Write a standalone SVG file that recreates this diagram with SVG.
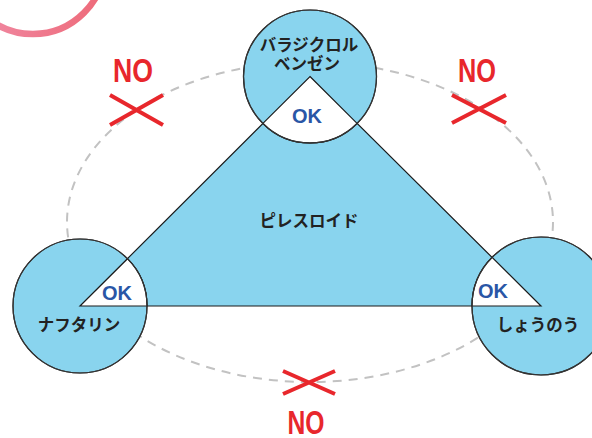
<svg xmlns="http://www.w3.org/2000/svg" width="592" height="438" viewBox="0 0 592 438">
<defs>
<linearGradient id="pk" x1="0" y1="0" x2="1" y2="0">
<stop offset="0" stop-color="#F08DA8"/>
<stop offset="1" stop-color="#EE6A79"/>
</linearGradient>
<style>
.bg{fill:#FFFFFF}
.ring{fill:none;stroke:url(#pk);stroke-width:6.5}
.orbit{fill:none;stroke:#C2C2C2;stroke-width:2;stroke-dasharray:9 7}
.tri{fill:#89D4EE;stroke:#1A1A1A;stroke-width:1.2;stroke-linejoin:miter}
.circ{fill:#89D4EE;stroke:#333333;stroke-width:1.2}
.wedge{fill:#FFFFFF;stroke:#1A1A1A;stroke-width:1.2}
.jp{font-family:"Noto Sans CJK JP","Noto Sans",sans-serif;font-weight:700;font-size:16.5px;fill:#222222;text-anchor:middle}
.ok{font-family:"Liberation Sans",Arial,sans-serif;font-weight:700;font-size:20px;fill:#2A56A6;text-anchor:middle}
.no{font-family:"Liberation Sans",Arial,sans-serif;font-weight:700;font-size:33px;fill:#E8272C;text-anchor:middle}
.x{stroke:#E8272C;stroke-width:4;stroke-linecap:butt;fill:none}
</style>
</defs>
<rect class="bg" x="0" y="0" width="592" height="438"/>
<circle class="ring" cx="33" cy="-38" r="72"/>
<ellipse class="orbit" cx="310" cy="222" rx="243" ry="160"/>

<g id="connectors">
<polygon class="tri" points="310,76.5 80,306 541,306"/>
</g>

<g id="node-center">
<text class="jp" x="309" y="227">ピレスロイド</text>
</g>

<g id="node-top">
<circle class="circ" cx="310" cy="76.5" r="66.5"/>
<path class="wedge" d="M310,76.5 L357.1,123.4 A66.5,66.5 0 0 1 262.9,123.4 Z"/>
<circle cx="310" cy="76.5" r="66.5" fill="none" stroke="#333333" stroke-width="1.2"/>
<text class="jp" x="309" y="50.5">バラジクロル</text>
<text class="jp" x="307" y="69.5">ベンゼン</text>
<text class="ok" x="307" y="123">OK</text>
</g>

<g id="node-left">
<circle class="circ" cx="80" cy="306" r="67"/>
<path class="wedge" d="M80,306 L127.5,258.7 A67,67 0 0 1 147,306 Z"/>
<circle cx="80" cy="306" r="67" fill="none" stroke="#333333" stroke-width="1.2"/>
<text class="ok" x="117" y="300">OK</text>
<text class="jp" x="79" y="331">ナフタリン</text>
</g>

<g id="node-right">
<circle class="circ" cx="541" cy="306" r="69"/>
<path class="wedge" d="M541,306 L472,306 A69,69 0 0 1 492.1,257.3 Z"/>
<circle cx="541" cy="306" r="69" fill="none" stroke="#333333" stroke-width="1.2"/>
<text class="ok" x="493" y="298">OK</text>
<text class="jp" x="538" y="331">しょうのう</text>
</g>

<g id="no-left">
<text class="no" x="133" y="82" textLength="40" lengthAdjust="spacingAndGlyphs">NO</text>
<path class="x" d="M110,95 L163,125 M110,125 L163,95"/>
</g>
<g id="no-right">
<text class="no" x="477" y="82" textLength="38" lengthAdjust="spacingAndGlyphs">NO</text>
<path class="x" d="M452,95 L506,123 M452,123 L506,95"/>
</g>
<g id="no-bottom">
<text class="no" x="306" y="434" textLength="37" lengthAdjust="spacingAndGlyphs">NO</text>
<path class="x" d="M283,371 L335,394 M283,394 L335,371"/>
</g>
</svg>
